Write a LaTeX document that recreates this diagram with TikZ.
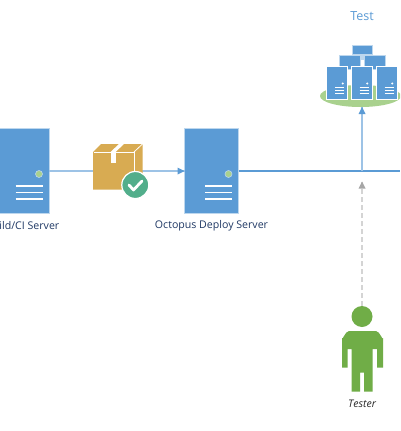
\documentclass[tikz,border=0pt]{standalone}
\usepackage{fontspec}
\setmainfont{Open Sans}
\usetikzlibrary{arrows.meta,calc,shapes.geometric}
\definecolor{srv}{HTML}{5B9BD5}
\definecolor{srvedge}{HTML}{BDD7EE}
\definecolor{linkl}{HTML}{9DC3E6}
\definecolor{linkd}{HTML}{5B9BD5}
\definecolor{grn}{HTML}{A9D18E}
\definecolor{txt}{HTML}{1F3864}
\definecolor{box}{HTML}{D8AB52}
\definecolor{chk}{HTML}{52AE8B}
\definecolor{person}{HTML}{70AD47}
\definecolor{dashgray}{HTML}{D4D4D4}
\tikzset{
  x=1pt,y=-1pt,
  bigserver/.style={draw=srvedge,line width=.8pt,fill=srv,minimum width=54pt,minimum height=85pt,inner sep=0pt,outer sep=0pt},
  smallserver/.style={draw=white,line width=.8pt,fill=srv,minimum width=21pt,minimum height=33pt,inner sep=0pt,outer sep=0pt},
  rackbox/.style={draw=srvedge,line width=.6pt,fill=srv,inner sep=0pt,outer sep=0pt},
  lab/.style={text=txt,font=\fontsize{10.6pt}{12pt}\selectfont,inner sep=0pt},
}
\newcommand{\servermarks}[1]{
  \fill[grn,draw=srvedge,line width=.6pt] ($(#1.center)+(17,3.5)$) circle (3.5pt);
  \foreach \yy in {15.5,22,28.5}
    \draw[white,line width=1.3pt] ($(#1.center)+(-6.5,\yy)$) -- ($(#1.center)+(20.5,\yy)$);
}
\begin{document}
\begin{tikzpicture}
\useasboundingbox (0,0) rectangle (400,431);
\clip (0,0) rectangle (400,431);
\fill[white] (0,0) rectangle (400,431);
\coordinate (rightedge) at (400,171);
\coordinate (junction) at (362,171);
\coordinate (dashtip) at (362,181.5);
\coordinate (clusterin) at (362,107);
\node[bigserver] (build) at (22,170.5) {};
\node[bigserver] (octo) at (211.5,170.5) {};
\coordinate (buildout) at (49,171);
\coordinate (octoin) at (184.5,171);
\coordinate (octoout) at (238.5,171);
\draw[linkl,line width=1.3pt] (buildout) -- (octoin);
\fill[srv] (octoin) -- ++(-7,-3.5) -- ++(0,7) -- cycle;
\draw[linkd,line width=1.8pt] (octoout) -- (rightedge);
\draw[linkl,line width=1.3pt] (junction) -- (clusterin);
\servermarks{build}
\servermarks{octo}
\node[lab,anchor=east] (buildlabel) at (59.5,226) {Build/CI Server};
\node[lab] (octolabel) at (211.5,226) {Octopus Deploy Server};
% package
\fill[box] (93,152) -- (101,144) -- (142.5,144) -- (142.5,182) -- (134,189.5) -- (93,189.5) -- cycle;
\draw[white,line width=.8pt] (93.5,152) -- (134,152) -- (134,189.5);
\draw[white,line width=.8pt] (134,152) -- (142.5,144);
\fill[white] (110.5,152) -- (115.5,152) -- (115.5,163) -- (110.5,163) -- cycle;
\fill[white] (110.5,152) -- (119,144) -- (124,144) -- (115.5,152) -- cycle;
\node[circle,fill=chk,draw=white,line width=1.2pt,minimum size=27pt,inner sep=0pt] (check) at (135.3,185) {};
\draw[white,line width=2.8pt,line cap=round,line join=round] (129,185) -- (133.5,190) -- (142,181);
% test cluster
\node[text=linkd,font=\fontsize{12.5pt}{14pt}\selectfont,inner sep=0pt] (testlabel) at (362,16) {Test};
\node[ellipse,fill=grn,minimum width=81pt,minimum height=22pt,inner sep=0pt] (pad) at (360.5,96) {};
\fill[srv] (clusterin) -- ++(-3.5,7) -- ++(7,0) -- cycle;
\draw[srvedge,line width=3pt] (362,54) -- (362,60);
\node[rackbox,minimum width=20pt,minimum height=9pt] (rtop) at (362,50) {};
\node[rackbox,minimum width=21pt,minimum height=14pt] (rleft) at (349.5,62) {};
\node[rackbox,minimum width=21pt,minimum height=14pt] (rright) at (374.5,62) {};
\foreach \n/\xx in {sa/337,sb/361.5,sc/386.5}{
  \node[smallserver] (\n) at (\xx,82.5) {};
  \fill[white] ($(\n.center)+(5.7,1)$) circle (1.2pt);
  \foreach \yy in {4.5,7.5,10.5}
    \draw[white,line width=.7pt] ($(\n.center)+(-2,\yy)$) -- ($(\n.center)+(7,\yy)$);
}
% tester
\draw[dashgray,line width=1.3pt,dash pattern=on 5pt off 3pt] (362,306) -- (dashtip);
\fill[gray!70] (dashtip) -- ++(-3.5,7) -- ++(7,0) -- cycle;
\node[circle,fill=person,minimum size=21pt,inner sep=0pt] (head) at (362,316.5) {};
\fill[person] (342,367.5) -- (342,338) to[out=-90,in=180] (349,331) -- (376,331) to[out=0,in=-90] (383,338) -- (383,367.5) -- (377,367.5) -- (377,349) -- (372.5,349) -- (372.5,391.5) -- (364,391.5) -- (364,372.5) -- (360,372.5) -- (360,391.5) -- (351.5,391.5) -- (351.5,349) -- (347.5,349) -- (347.5,367.5) -- cycle;
\node[text=black!85,font=\fontsize{10.5pt}{12pt}\selectfont\itshape,inner sep=0pt] (testerlabel) at (362,404) {Tester};
\end{tikzpicture}
\end{document}
